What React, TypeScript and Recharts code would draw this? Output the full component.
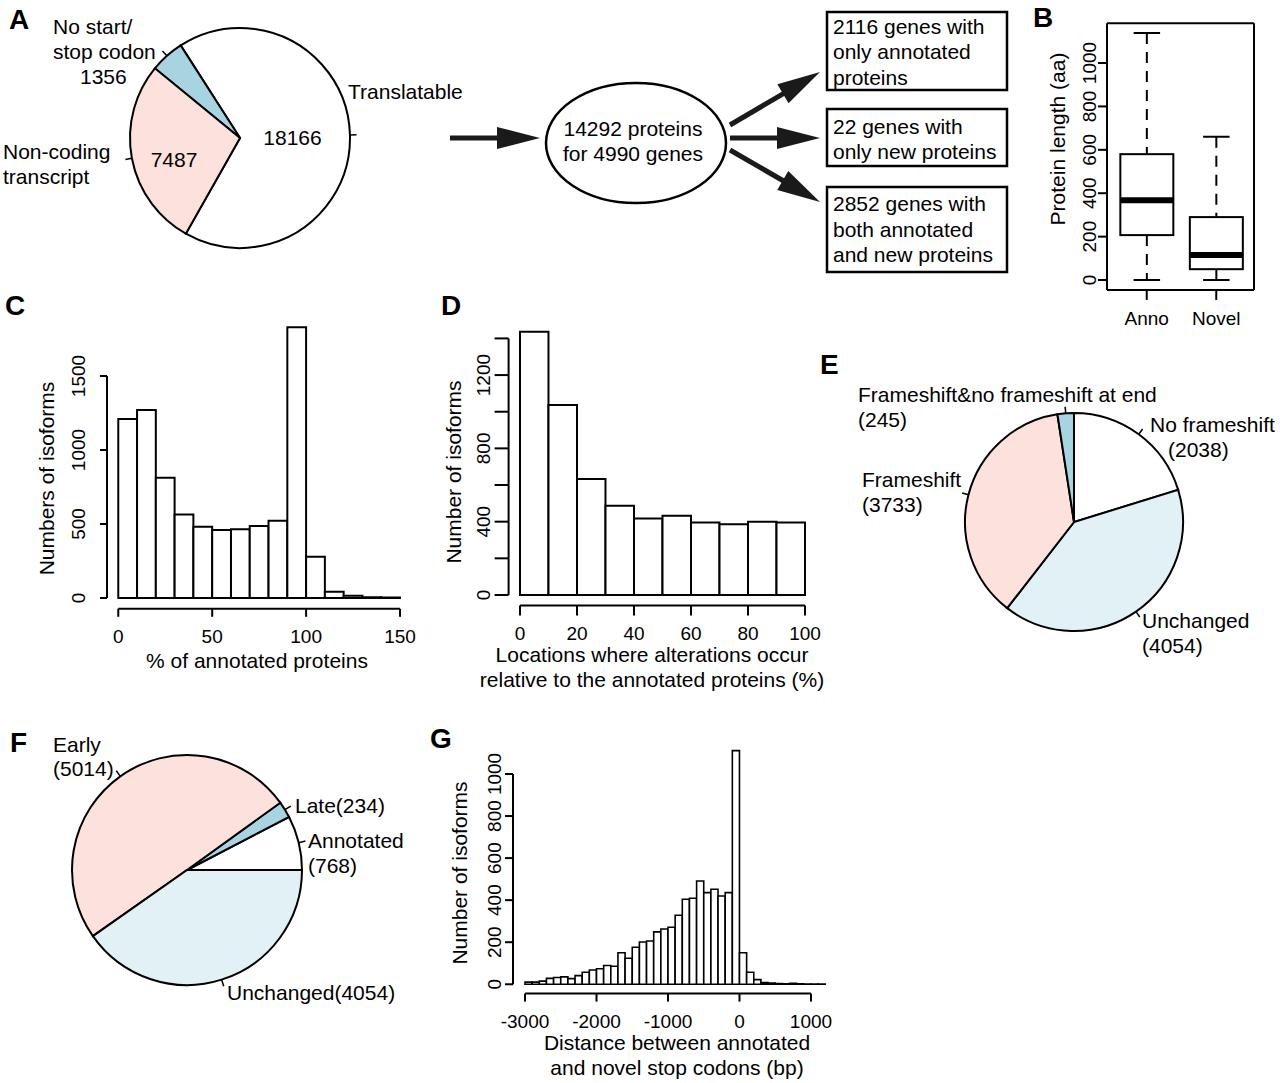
import React from 'react';
import { PieChart, Pie, Cell, BarChart, ComposedChart, Bar, XAxis, YAxis, ReferenceLine } from 'recharts';

const FONT = '"Liberation Sans", Arial, Helvetica, sans-serif';
const TICK_FS = 19;
const TEXT_FS = 21;
const PINK = '#FCE1DD';
const BLUE = '#A8D4E2';
const PALE = '#E1F1F6';
const WHITE = '#FFFFFF';
const YAXIS_W = 40;
const XAXIS_H = 30;

// ---------------- data ----------------
// Panel A pie
const aNames = ['Translatable', 'No start/stop codon', 'Non-coding transcript'];
const aValues = [18166, 1356, 7487];
const aColors = [WHITE, BLUE, PINK];

// Panel A flow chart
const flowCenterText = ['14292 proteins', 'for 4990 genes'];
const flowBox1Text = ['2116 genes with', 'only annotated', 'proteins'];
const flowBox2Text = ['22 genes with', 'only new proteins'];
const flowBox3Text = ['2852 genes with', 'both annotated', 'and new proteins'];

// Panel B boxplot
const bCategories = ['Anno', 'Novel'];
const bMin = [0, 0];
const bQ1 = [207, 50];
const bMedian = [368, 115];
const bQ3 = [580, 290];
const bMax = [1138, 660];
const bYTicks = [0, 200, 400, 600, 800, 1000];

// Panel C histogram
const cBinStarts = [0, 10, 20, 30, 40, 50, 60, 70, 80, 90, 100, 110, 120, 130, 140];
const cCounts = [1210, 1270, 813, 565, 482, 460, 464, 486, 522, 1829, 279, 43, 16, 5, 4];
const cXTicks = [0, 50, 100, 150];
const cYTicks = [0, 500, 1000, 1500];

// Panel D histogram
const dBinStarts = [0, 10, 20, 30, 40, 50, 60, 70, 80, 90];
const dCounts = [1436, 1036, 633, 487, 418, 433, 395, 386, 400, 395];
const dXTicks = [0, 20, 40, 60, 80, 100];
const dYTicks = [0, 200, 400, 600, 800, 1000, 1200, 1400];
const dYTickLabels = [0, 400, 800, 1200];

// Panel E pie
const eNames = ['No frameshift', 'Unchanged', 'Frameshift', 'Frameshift&no frameshift at end'];
const eValues = [2038, 4054, 3733, 245];
const eColors = [WHITE, PALE, PINK, BLUE];

// Panel F pie
const fNames = ['Annotated', 'Late', 'Early', 'Unchanged'];
const fValues = [768, 234, 5014, 4054];
const fColors = [WHITE, BLUE, PINK, PALE];

// Panel G histogram
const gBinStarts = [
  -3000, -2900, -2800, -2700, -2600, -2500, -2400, -2300, -2200, -2100,
  -2000, -1900, -1800, -1700, -1600, -1500, -1400, -1300, -1200, -1100,
  -1000, -900, -800, -700, -600, -500, -400, -300, -200, -100,
  0, 100, 200, 300, 400, 500, 600, 700, 800, 900, 1000, 1100,
];
const gCounts = [
  10, 10, 15, 28, 32, 35, 27, 41, 57, 68,
  74, 89, 86, 150, 124, 176, 201, 206, 249, 263,
  271, 328, 404, 409, 491, 436, 452, 420, 436, 1111,
  150, 57, 22, 8, 6, 3, 2, 4, 2, 1, 1, 1,
];
const gXTicks = [-3000, -2000, -1000, 0, 1000];
const gYTicks = [0, 200, 400, 600, 800, 1000];

// ---------------- helpers ----------------
type LabelLine = { t: string; dx: number; dy: number; anchor?: 'start' | 'middle' | 'end' };

const txt = (fs: number) => ({ fontSize: fs, fontFamily: FONT, fill: '#000' });

function makeXTick(dy: number, labels?: number[]) {
  return (props: any) => {
    const { x, y, payload } = props;
    if (labels && !labels.includes(payload.value)) return <g />;
    return (
      <text x={x} y={y + dy} textAnchor="middle" {...txt(TICK_FS)}>
        {payload.value}
      </text>
    );
  };
}

function makeYTick(dx: number, labels?: number[]) {
  return (props: any) => {
    const { x, y, payload } = props;
    if (labels && !labels.includes(payload.value)) return <g />;
    const bx = x + dx;
    return (
      <text x={bx} y={y} transform={`rotate(-90, ${bx}, ${y})`} textAnchor="middle" {...txt(TICK_FS)}>
        {payload.value}
      </text>
    );
  };
}

type HistProps = {
  left: number; top: number; width: number; height: number;
  plot: { top: number; right: number; bottom: number; left: number };
  binStarts: number[]; binWidth: number; counts: number[];
  xDomain: [number, number]; yDomain: [number, number];
  xTicks: number[]; yTicks: number[]; yLabels?: number[];
  xTickLen: number; yTickLen: number; xLabelDy: number; yLabelDx: number;
  xTitle: string[]; xTitleX: number; xTitleY: number[];
  yTitle: string; yTitleX: number; yTitleY: number;
  barStroke: number;
};

function Histogram(p: HistProps) {
  const data = p.binStarts.map((s, i) => ({ mid: s + p.binWidth / 2, count: p.counts[i] }));
  const margin = {
    top: p.plot.top,
    right: p.plot.right,
    left: p.plot.left - YAXIS_W,
    bottom: p.plot.bottom - XAXIS_H,
  };
  const plotW = p.width - p.plot.left - p.plot.right;
  const barPx = (plotW * p.binWidth) / (p.xDomain[1] - p.xDomain[0]) - 0.02;
  const xt = p.xTicks;
  const yt = p.yTicks;
  return (
    <div style={{ position: 'absolute', left: p.left, top: p.top, width: p.width, height: p.height }}>
      <ComposedChart width={p.width} height={p.height} data={data} margin={margin} barGap={0} barCategoryGap={0}>
        <XAxis
          dataKey="mid"
          type="number"
          domain={p.xDomain}
          ticks={xt}
          interval={0}
          allowDataOverflow
          axisLine={false}
          tickLine={{ stroke: '#000', strokeWidth: 2 }}
          tickSize={p.xTickLen}
          tickMargin={0}
          height={XAXIS_H}
          tick={makeXTick(p.xLabelDy)}
          label={() => (
            <g>
              {p.xTitle.map((s, i) => (
                <text key={i} x={p.xTitleX} y={p.xTitleY[i]} textAnchor="middle" {...txt(TEXT_FS)}>
                  {s}
                </text>
              ))}
            </g>
          )}
        />
        <YAxis
          type="number"
          domain={p.yDomain}
          ticks={yt}
          interval={0}
          allowDataOverflow
          axisLine={false}
          tickLine={{ stroke: '#000', strokeWidth: 2 }}
          tickSize={p.yTickLen}
          tickMargin={0}
          width={YAXIS_W}
          tick={makeYTick(p.yLabelDx, p.yLabels)}
          label={() => (
            <text
              x={p.yTitleX}
              y={p.yTitleY}
              transform={`rotate(-90, ${p.yTitleX}, ${p.yTitleY})`}
              textAnchor="middle"
              {...txt(TEXT_FS)}
            >
              {p.yTitle}
            </text>
          )}
        />
        <Bar dataKey="count" fill="#fff" stroke="#000" strokeWidth={p.barStroke} barSize={barPx} isAnimationActive={false} />
        <ReferenceLine
          segment={[{ x: xt[0], y: p.yDomain[0] }, { x: xt[xt.length - 1], y: p.yDomain[0] }]}
          stroke="#000"
          strokeWidth={2}
          ifOverflow="visible"
        />
        <ReferenceLine
          segment={[{ x: p.xDomain[0], y: yt[0] }, { x: p.xDomain[0], y: yt[yt.length - 1] }]}
          stroke="#000"
          strokeWidth={2}
          ifOverflow="visible"
        />
      </ComposedChart>
    </div>
  );
}

type PieProps = {
  left: number; top: number; width: number; height: number;
  cx: number; cy: number; r: number;
  names: string[]; values: number[]; colors: string[];
  startAngle: number; endAngle: number;
  labels: LabelLine[][];
};

function PiePanel(p: PieProps) {
  const data = p.names.map((name, i) => ({ name, value: p.values[i] }));
  const renderLabel = (lp: any) => {
    const spec = p.labels[lp.index];
    if (!spec) return null;
    const RAD = Math.PI / 180;
    const ccx = lp.cx ?? p.cx;
    const ccy = lp.cy ?? p.cy;
    const rr = lp.outerRadius ?? p.r;
    const c = Math.cos(-lp.midAngle * RAD);
    const s = Math.sin(-lp.midAngle * RAD);
    return (
      <g>
        <line x1={ccx + rr * c} y1={ccy + rr * s} x2={ccx + rr * 1.06 * c} y2={ccy + rr * 1.06 * s} stroke="#000" strokeWidth={1.5} />
        {spec.map((l, k) => (
          <text key={k} x={ccx + l.dx} y={ccy + l.dy} textAnchor={l.anchor || 'start'} {...txt(TEXT_FS)}>
            {l.t}
          </text>
        ))}
      </g>
    );
  };
  return (
    <div style={{ position: 'absolute', left: p.left, top: p.top, width: p.width, height: p.height }}>
      <PieChart width={p.width} height={p.height} margin={{ top: 0, right: 0, bottom: 0, left: 0 }}>
        <Pie
          data={data}
          dataKey="value"
          nameKey="name"
          cx={p.cx}
          cy={p.cy}
          outerRadius={p.r}
          startAngle={p.startAngle}
          endAngle={p.endAngle}
          stroke="#000"
          strokeWidth={2}
          label={renderLabel}
          labelLine={false}
          isAnimationActive={false}
        >
          {data.map((d, i) => (
            <Cell key={d.name} fill={p.colors[i]} stroke="#000" strokeWidth={2} />
          ))}
        </Pie>
      </PieChart>
    </div>
  );
}

// label layouts (offsets relative to pie centre)
const aLabelLayout: LabelLine[][] = [
  [
    { t: 'Translatable', dx: 108, dy: -39.5 },
    { t: '18166', dx: 52.5, dy: 7, anchor: 'middle' },
  ],
  [
    { t: 'No start/', dx: -187, dy: -104.5 },
    { t: 'stop codon', dx: -187, dy: -79.5 },
    { t: '1356', dx: -160, dy: -54.5 },
  ],
  [
    { t: 'Non-coding', dx: -237, dy: 20.5 },
    { t: 'transcript', dx: -237, dy: 45.5 },
    { t: '7487', dx: -66, dy: 28.7, anchor: 'middle' },
  ],
];

const eLabelLayout: LabelLine[][] = [
  [
    { t: 'No frameshift', dx: 76, dy: -90 },
    { t: '(2038)', dx: 94, dy: -65 },
  ],
  [
    { t: 'Unchanged', dx: 68, dy: 106 },
    { t: '(4054)', dx: 68, dy: 131 },
  ],
  [
    { t: 'Frameshift', dx: -212, dy: -35 },
    { t: '(3733)', dx: -212, dy: -10 },
  ],
  [
    { t: 'Frameshift&no frameshift at end', dx: -216, dy: -120 },
    { t: '(245)', dx: -216, dy: -95 },
  ],
];

const fLabelLayout: LabelLine[][] = [
  [
    { t: 'Annotated', dx: 121, dy: -22 },
    { t: '(768)', dx: 121, dy: 3 },
  ],
  [{ t: 'Late(234)', dx: 108, dy: -57 }],
  [
    { t: 'Early', dx: -134, dy: -118 },
    { t: '(5014)', dx: -134, dy: -94 },
  ],
  [{ t: 'Unchanged(4054)', dx: 40, dy: 130 }],
];

// ---------------- boxplot ----------------
const BoxShape = (props: any) => {
  const { x, y, width, height } = props;
  const d = props.payload ?? props;
  if (!d || !d.max) return <g />;
  const base = y + height;
  const k = height / d.max;
  const py = (v: number) => base - v * k;
  const mx = x + width / 2;
  const cap = width / 4;
  return (
    <g>
      <line x1={mx} x2={mx} y1={py(d.max)} y2={py(d.q3)} stroke="#000" strokeWidth={2} strokeDasharray="11 8" />
      <line x1={mx} x2={mx} y1={py(d.q1)} y2={py(d.min)} stroke="#000" strokeWidth={2} strokeDasharray="11 8" />
      <line x1={mx - cap} x2={mx + cap} y1={py(d.max)} y2={py(d.max)} stroke="#000" strokeWidth={2} />
      <line x1={mx - cap} x2={mx + cap} y1={py(d.min)} y2={py(d.min)} stroke="#000" strokeWidth={2} />
      <rect x={x} y={py(d.q3)} width={width} height={py(d.q1) - py(d.q3)} fill="#fff" stroke="#000" strokeWidth={2} />
      <line x1={x} x2={x + width} y1={py(d.median)} y2={py(d.median)} stroke="#000" strokeWidth={6} />
    </g>
  );
};

function BoxPanel() {
  const data = bCategories.map((name, i) => ({
    name, min: bMin[i], q1: bQ1[i], median: bMedian[i], q3: bQ3[i], max: bMax[i],
  }));
  const W = 250;
  const H = 340;
  // plot area: left 77, top 23.2, right 26, bottom 50.1 (container coordinates)
  return (
    <div style={{ position: 'absolute', left: 1030, top: 0, width: W, height: H }}>
      <BarChart
        width={W}
        height={H}
        data={data}
        margin={{ top: 22.2, right: 25, bottom: 50.1 - XAXIS_H, left: 77 - YAXIS_W }}
        barCategoryGap="12%"
      >
        <XAxis
          dataKey="name"
          type="category"
          padding={{ left: 5, right: 3 }}
          axisLine={{ stroke: '#000', strokeWidth: 2 }}
          tickLine={{ stroke: '#000', strokeWidth: 2 }}
          tickSize={10}
          tickMargin={0}
          height={XAXIS_H}
          interval={0}
          tick={makeXTick(25)}
        />
        <XAxis xAxisId="top" orientation="top" dataKey="name" height={1} tick={false} tickLine={false} axisLine={{ stroke: '#000', strokeWidth: 2 }} />
        <YAxis
          type="number"
          domain={[-45.5, 1183.5]}
          ticks={bYTicks}
          interval={0}
          allowDataOverflow
          axisLine={{ stroke: '#000', strokeWidth: 2 }}
          tickLine={{ stroke: '#000', strokeWidth: 2 }}
          tickSize={9}
          tickMargin={0}
          width={YAXIS_W}
          tick={makeYTick(-1.5)}
          label={() => (
            <text x={35} y={139} transform="rotate(-90, 35, 139)" textAnchor="middle" {...txt(TEXT_FS)}>
              Protein length (aa)
            </text>
          )}
        />
        <YAxis yAxisId="right" orientation="right" width={1} tick={false} tickLine={false} axisLine={{ stroke: '#000', strokeWidth: 2 }} />
        <Bar dataKey="max" shape={BoxShape} isAnimationActive={false} />
      </BarChart>
    </div>
  );
}

// ---------------- flow chart & letters ----------------
function Arrow({ x1, y1, x2, y2 }: { x1: number; y1: number; x2: number; y2: number }) {
  const len = Math.hypot(x2 - x1, y2 - y1);
  const ux = (x2 - x1) / len;
  const uy = (y2 - y1) / len;
  const hl = 43;
  const hw = 11;
  const bx = x2 - ux * hl;
  const by = y2 - uy * hl;
  const px = -uy;
  const py = ux;
  return (
    <g>
      <line x1={x1} y1={y1} x2={bx + ux * 3} y2={by + uy * 3} stroke="#1a1a1a" strokeWidth={5} />
      <polygon points={`${x2},${y2} ${bx + px * hw},${by + py * hw} ${bx - px * hw},${by - py * hw}`} fill="#1a1a1a" />
    </g>
  );
}

function Overlay() {
  const letter = { fontSize: 28, fontWeight: 700, fontFamily: FONT, fill: '#000' } as const;
  const boxes = [
    { y: 12, h: 78, lines: flowBox1Text, base: 33.5 },
    { y: 109, h: 57, lines: flowBox2Text, base: 133.5 },
    { y: 187, h: 85, lines: flowBox3Text, base: 211 },
  ];
  return (
    <svg width={1280} height={1083} style={{ position: 'absolute', left: 0, top: 0, pointerEvents: 'none' }}>
      <text x={9} y={29} {...letter}>A</text>
      <text x={1033} y={27} {...letter}>B</text>
      <text x={5} y={315} {...letter}>C</text>
      <text x={441} y={315} {...letter}>D</text>
      <text x={820} y={374} {...letter}>E</text>
      <text x={10} y={752} {...letter}>F</text>
      <text x={430} y={748} {...letter}>G</text>

      <Arrow x1={450} y1={138} x2={540} y2={138} />
      <ellipse cx={636} cy={143} rx={90} ry={60} fill="#fff" stroke="#000" strokeWidth={2.5} />
      {flowCenterText.map((s, i) => (
        <text key={s} x={633} y={136 + i * 25} textAnchor="middle" {...txt(TEXT_FS)}>
          {s}
        </text>
      ))}
      <Arrow x1={730} y1={125} x2={820} y2={72} />
      <Arrow x1={730} y1={138} x2={820} y2={138} />
      <Arrow x1={730} y1={150} x2={820} y2={202} />
      {boxes.map((b, i) => (
        <g key={i}>
          <rect x={827} y={b.y} width={180} height={b.h} fill="#fff" stroke="#000" strokeWidth={2.5} />
          {b.lines.map((s, j) => (
            <text key={j} x={833} y={b.base + j * 25.5} {...txt(TEXT_FS)}>
              {s}
            </text>
          ))}
        </g>
      ))}
    </svg>
  );
}

export default function App() {
  return (
    <div style={{ position: 'absolute', left: 0, top: 0, width: 1280, height: 1083, background: '#fff', fontFamily: FONT, overflow: 'hidden' }}>
      <Overlay />
      <PiePanel
        left={0} top={0} width={480} height={290}
        cx={240} cy={138} r={110}
        names={aNames} values={aValues} colors={aColors}
        startAngle={-119.5} endAngle={240.5}
        labels={aLabelLayout}
      />
      <BoxPanel />
      <Histogram
        left={0} top={290} width={440} height={400}
        plot={{ top: 26.5, right: 28.7, bottom: 81.2, left: 107 }}
        binStarts={cBinStarts} binWidth={10} counts={cCounts}
        xDomain={[-6, 156]} yDomain={[-73, 1902]}
        xTicks={cXTicks} yTicks={cYTicks}
        xTickLen={8} yTickLen={7} xLabelDy={26} yLabelDx={-15}
        xTitle={['% of annotated proteins']} xTitleX={257} xTitleY={[378]}
        yTitle="Numbers of isoforms" yTitleX={54} yTitleY={188.5}
        barStroke={2}
      />
      <Histogram
        left={420} top={290} width={420} height={420}
        plot={{ top: 31.3, right: 23.6, bottom: 104.5, left: 88.6 }}
        binStarts={dBinStarts} binWidth={10} counts={dCounts}
        xDomain={[-4, 104]} yDomain={[-57.4, 1493.4]}
        xTicks={dXTicks} yTicks={dYTicks} yLabels={dYTickLabels}
        xTickLen={10} yTickLen={14} xLabelDy={24.5} yLabelDx={-5}
        xTitle={['Locations where alterations occur', 'relative to the annotated proteins (%)']}
        xTitleX={232} xTitleY={[372, 397]}
        yTitle="Number of isoforms" yTitleX={41} yTitleY={182}
        barStroke={2}
      />
      <PiePanel
        left={840} top={330} width={440} height={350}
        cx={234} cy={192} r={109}
        names={eNames} values={eValues} colors={eColors}
        startAngle={90} endAngle={-270}
        labels={eLabelLayout}
      />
      <PiePanel
        left={0} top={700} width={440} height={330}
        cx={187} cy={170} r={115}
        names={fNames} values={fValues} colors={fColors}
        startAngle={0} endAngle={360}
        labels={fLabelLayout}
      />
      <Histogram
        left={430} top={715} width={420} height={368}
        plot={{ top: 26.3, right: 12.7, bottom: 89.4, left: 83 }}
        binStarts={gBinStarts} binWidth={100} counts={gCounts}
        xDomain={[-3168, 1368]} yDomain={[-44.4, 1155.4]}
        xTicks={gXTicks} yTicks={gYTicks}
        xTickLen={8} yTickLen={8} xLabelDy={26} yLabelDx={-4}
        xTitle={['Distance between annotated', 'and novel stop codons (bp)']}
        xTitleX={247} xTitleY={[335, 360]}
        yTitle="Number of isoforms" yTitleX={36.7} yTitleY={158}
        barStroke={1.6}
      />
    </div>
  );
}
